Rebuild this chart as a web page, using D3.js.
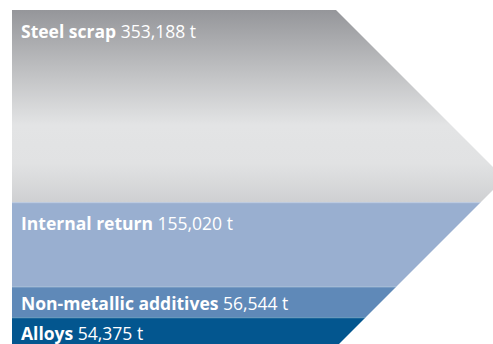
<!DOCTYPE html>
<html>
<head>
<meta charset="utf-8">
<script src="https://cdn.jsdelivr.net/npm/d3@7"></script>
<style>
  html, body { margin: 0; padding: 0; background: #fff; }
  svg { display: block; }
  text { font-family: "Open Sans", Lato, sans-serif; fill: #fff; }
</style>
</head>
<body>
<svg id="chart" width="493" height="344"></svg>
<script>
// Input materials (tonnes), stacked top to bottom
const categories = ["Steel scrap", "Internal return", "Non-metallic additives", "Alloys"];
const values = [353188, 155020, 56544, 54375];
const unitLabel = "t";
const bandColors = [null, "#99afd0", "#5f89b8", "#03568f"];

const W = 493, H = 344;
const arrowLeft = 12, bodyRight = 336, arrowTop = 10, arrowBottom = 347;

const total = d3.sum(values);
const yScale = d3.scaleLinear().domain([0, total]).range([arrowTop, arrowBottom]);
const fmt = d3.format(",");

const stacked = [];
let acc = 0;
values.forEach((v, i) => {
  stacked.push({ name: categories[i], value: v, y0: acc, y1: acc + v, color: bandColors[i] });
  acc += v;
});

const svg = d3.select("#chart");
const defs = svg.append("defs");

// Arrow outline: rectangular body with a right-pointing 45° head
const half = (arrowBottom - arrowTop) / 2;
const arrowPts = [
  [arrowLeft, arrowTop], [bodyRight, arrowTop], [bodyRight + half, arrowTop + half],
  [bodyRight, arrowBottom], [arrowLeft, arrowBottom]
];
defs.append("clipPath").attr("id", "arrow")
  .append("path").attr("d", d3.line()(arrowPts) + "Z");

// Grey metallic gradient for steel scrap
const grad = defs.append("linearGradient").attr("id", "steel")
  .attr("x1", 0).attr("y1", 0).attr("x2", 0).attr("y2", 1);
[[0, "#95969a"], [0.3, "#bdbec0"], [0.6, "#e3e4e5"], [0.8, "#e1e2e3"], [1, "#cfd0d2"]]
  .forEach(([o, c]) => grad.append("stop").attr("offset", o).attr("stop-color", c));

const g = svg.append("g").attr("clip-path", "url(#arrow)");

g.selectAll("rect.band").data(stacked).join("rect")
  .attr("class", "band")
  .attr("x", arrowLeft)
  .attr("width", W + 40 - arrowLeft)
  .attr("y", d => yScale(d.y0))
  .attr("height", d => yScale(d.y1) - yScale(d.y0))
  .attr("fill", (d, i) => i === 0 ? "url(#steel)" : d.color);

// faint separators between bands
g.selectAll("line.sep").data(stacked.slice(1)).join("line")
  .attr("class", "sep")
  .attr("x1", arrowLeft).attr("x2", W + 40)
  .attr("y1", d => yScale(d.y0) + 0.5).attr("y2", d => yScale(d.y0) + 0.5)
  .attr("stroke", "#fff").attr("stroke-opacity", 0.25);

// Labels near the top of each band
const labels = svg.selectAll("text.lbl").data(stacked).join("text")
  .attr("class", "lbl")
  .attr("x", arrowLeft + 9)
  .attr("y", d => {
    const h = yScale(d.y1) - yScale(d.y0);
    return yScale(d.y0) + Math.min(28, h * 0.77);
  })
  .style("font-size", "17.5px");
labels.append("tspan").style("font-weight", "700").text(d => d.name);
labels.append("tspan").style("font-weight", "400").text(d => " " + fmt(d.value) + " " + unitLabel);
</script>
</body>
</html>
